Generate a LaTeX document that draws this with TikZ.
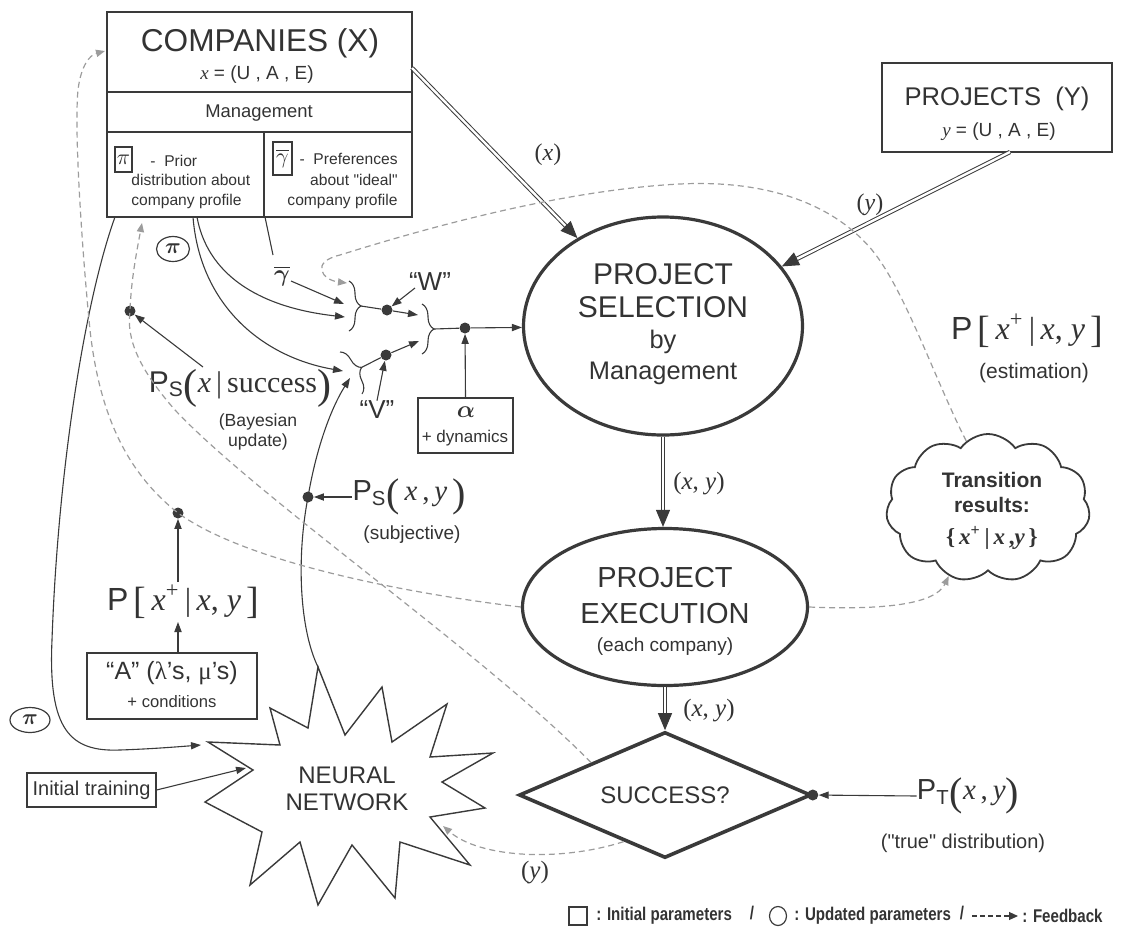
\documentclass[tikz,border=0pt]{standalone}
\usepackage{fontspec}
\setmainfont{Liberation Sans}[Ligatures=TeXOff]
\newfontfamily\lgf[FakeStretch=0.82]{Liberation Sans}
\newfontfamily\srf{Liberation Serif}
\usepackage{bm}
\usetikzlibrary{arrows.meta,shapes.geometric,shapes.symbols,decorations.pathreplacing,calc}
\definecolor{lc}{HTML}{3A3A3A}
\definecolor{tc}{HTML}{333333}
\definecolor{fbc}{HTML}{9C9C9C}
\newcommand{\fsz}[2]{\fontsize{#1pt}{#2pt}\selectfont}
\newcommand{\dl}[2]{\raisebox{-0.2em}{\srf\fontsize{#1pt}{#1pt}\selectfont #2}}
\newcommand{\dlb}[2]{\raisebox{-0.12em}{\srf\fontsize{#1pt}{#1pt}\selectfont #2}}
\newcommand{\vi}[1]{{\srf\itshape #1}}
\tikzset{
  box/.style={draw=lc, line width=1.2pt, inner sep=0pt},
  ln/.style={draw=lc, line width=0.55pt},
  arr/.style={ln, -{Triangle[length=5pt,width=3.6pt]}},
  fb/.style={draw=fbc, line width=0.6pt, dash pattern=on 3pt off 2pt, -{Triangle[length=4.5pt,width=3.6pt]}},
  dbl/.style={draw=lc, double=white, double distance=1.2pt, line width=0.5pt, -{Triangle[length=8.5pt,width=7pt]}},
  dotn/.style={circle, fill=lc, draw=none, inner sep=0pt, minimum size=5.5pt},
  brc/.style={draw=lc, line width=0.55pt, decorate, decoration={brace, amplitude=6pt}},
  lbl/.style={inner sep=0pt},
}
\begin{document}
\begin{tikzpicture}[x=0.5pt,y=-0.5pt, every node/.style={text=tc}]
\useasboundingbox (0,0) rectangle (1131,927);

% ---------- COMPANIES box
\node[box, minimum width=152.5pt, minimum height=102.5pt] (comp) at (259.5,114.5) {};
\draw[box] (107,92) -- (412,92);
\draw[box] (107,132) -- (412,132);
\draw[box] (264,132) -- (264,217);
\node[lbl, font=\fsz{15.8}{18}] (compT) at (260,43) {COMPANIES (X)};
\node[lbl, font=\fsz{9.5}{11}] (compX) at (257,75) {\vi{x} = (U , A , E)};
\node[lbl, font=\fsz{9.2}{11}] (mgmt) at (259,113) {Management};
\node[draw=lc, line width=0.6pt, minimum width=8.5pt, minimum height=12.5pt, inner sep=0pt, font=\fsz{11}{12}] (pib) at (123.5,159.5) {$\pi$};
\node[lbl, anchor=west, font=\fsz{7.8}{9}] (prior) at (150,161) {-\ \ Prior};
\node[lbl, anchor=west, align=left, font=\fsz{7.8}{10}] (distr) at (131,191) {distribution about\\company profile};
\node[draw=lc, line width=0.6pt, minimum width=9.5pt, minimum height=16.5pt, inner sep=0pt, font=\fsz{11}{12}] (gab) at (282.5,158.5) {$\overline{\gamma}$};
\node[lbl, anchor=east, align=right, font=\fsz{7.8}{10.25}] (pref) at (398,181) {-\ \ Preferences\\about "ideal"\\company profile};

% ---------- PROJECTS box
\node[box, minimum width=115pt, minimum height=44.5pt] (proj) at (997,107.5) {};
\node[lbl, font=\fsz{12.8}{14}] (projT) at (997,99) {PROJECTS\ \ (Y)};
\node[lbl, font=\fsz{9.5}{11}] (projY) at (999,132) {\vi{y} = (U , A , E)};

% ---------- main flow
\node[ellipse, draw=lc, line width=1.6pt, minimum width=139.5pt, minimum height=109pt, inner sep=0pt] (sel) at (663,326) {};
\node[lbl, font=\fsz{15}{16}] (selA) at (663,274) {PROJECT};
\node[lbl, font=\fsz{15}{16}] (selB) at (663,307) {SELECTION};
\node[lbl, font=\fsz{12.7}{14}] (selC) at (663,342) {by};
\node[lbl, font=\fsz{12.7}{14}] (selD) at (663,373) {Management};

\node[ellipse, draw=lc, line width=1.6pt, minimum width=142.5pt, minimum height=78.5pt, inner sep=0pt] (exe) at (665,607) {};
\node[lbl, font=\fsz{14.5}{16}] (exeA) at (665,578) {PROJECT};
\node[lbl, font=\fsz{14.5}{16}] (exeB) at (665,614) {EXECUTION};
\node[lbl, font=\fsz{9.5}{11}] (exeC) at (665,647) {(each company)};

\node[diamond, draw=lc, line width=1.8pt, minimum width=146pt, minimum height=63pt, inner sep=0pt, aspect=2.3] (succ) at (665,795) {};
\node[lbl, font=\fsz{12}{13}] (succT) at (665,795) {SUCCESS?};

\node[cloud, cloud puffs=11, cloud puff arc=110, aspect=1.4, draw=lc, line width=0.9pt, minimum width=102pt, minimum height=74pt, inner sep=0pt] (cld) at (988,508) {};
\node[lbl, font=\bfseries\fsz{10.5}{11}] (cldA) at (992,480) {Transition};
\node[lbl, font=\bfseries\fsz{10.5}{11}] (cldB) at (992,505) {results:};
\node[lbl, font=\fsz{11.5}{12}] (cldC) at (992,538) {{\srf\bfseries\{\,\textit{x}\textsuperscript{+}\,|\,\textit{x}\,,\textit{y}\,\}}};

\coordinate (compR) at (412,68);
\coordinate (projS) at (1010,152);
\draw[dbl] (compR) -- (sel);
\draw[dbl] (projS) -- (sel);
\draw[dbl] (sel.south) -- (sel.south |- exe.north);
\draw[dbl] (exe.south) -- (succ.north);
\node[lbl, font=\fsz{12}{13}] (lx) at (548,155) {{\srf(\textit{x})}};
\node[lbl, font=\fsz{12}{13}] (ly) at (870,205) {{\srf(\textit{y})}};
\node[lbl, font=\fsz{12.5}{13}] (lxy1) at (699,484) {{\srf(\textit{x}, \textit{y})}};
\node[lbl, font=\fsz{12.5}{13}] (lxy2) at (709,711) {{\srf(\textit{x}, \textit{y})}};

% ---------- right labels
\node[lbl, font=\fsz{16}{17}] (pr) at (1027,331) {P\,{\srf\dlb{19}{[}\,\textit{x}\textsuperscript{+}\,|\,\textit{x}, \textit{y}\,\dlb{19}{]}}};
\node[lbl, font=\fsz{10.5}{11}] (pre) at (1034,373) {(estimation)};
\node[lbl, font=\fsz{14.5}{16}] (pt) at (968,796) {P\textsubscript{T}{\srf\dl{20}{(}\textit{x}\,,\,\textit{y}\dl{20}{)}}};
\node[lbl, font=\fsz{10}{11}] (pte) at (963,843) {("true" distribution)};
\node[dotn] (d4) at (succ.east) {};
\draw[arr] (pt.west) -- (d4);

% ---------- W / V aggregation
\coordinate (gamTop) at (265,217);
\node[lbl, font=\fsz{13}{14}] (gam) at (282,276) {$\bm{\overline{\gamma}}$};
\draw[ln] (gamTop) -- (273,255);
\draw[arr] (291,281) -- (344,304);
\draw[brc] (349,281) -- (349,331);
\coordinate (wtip) at (361,306);
\node[dotn] (wd) at (387,310) {};
\draw[ln] (wtip) -- (wd);
\node[lbl, font=\fsz{13}{14}] (wl) at (430,282) {“W”};
\draw[arr] (415,288) -- (wd);
\draw[arr] (wd) -- (418,315);
\draw[brc] (422,304) -- (422,354);
\coordinate (b2tip) at (434,329);
\node[dotn] (cd) at (465,328) {};
\draw[ln] (b2tip) -- (cd);
\draw[arr] (cd) -- (sel);
\node[draw=lc, line width=0.6pt, minimum width=47.5pt, minimum height=27.5pt, inner sep=0pt] (alb) at (465.5,425.5) {};
\node[lbl, font=\fsz{13}{14}] (alA) at (466,412) {$\bm{\alpha}$};
\node[lbl, font=\fsz{8.5}{9}] (alB) at (465,438) {+ dynamics};
\draw[arr] (alb.north) -- (cd);
\draw[brc] (340,352) -- (362,394);
\coordinate (vtip) at (361.6,367.4);
\node[dotn] (vd) at (386,355) {};
\draw[ln] (vtip) -- (vd);
\draw[arr] (vd) -- (419,341);
\node[lbl, font=\fsz{13}{14}] (vl) at (377,410) {“V”};
\draw[arr] (vl.north) -- (vd);

\coordinate (c1s) at (197,217);
\coordinate (c2s) at (193,217);
\draw[arr] (c1s) .. controls (207,272) and (255,307) .. (345,317);
\draw[arr] (c2s) .. controls (200,305) and (262,357) .. (343,371);

% ---------- left side labels
\node[ellipse, draw=lc, line width=0.6pt, minimum width=16.5pt, minimum height=12.5pt, inner sep=0pt, font=\fsz{11}{12}] (pi1) at (173,249) {$\bm{\pi}$};
\node[ellipse, draw=lc, line width=0.6pt, minimum width=20pt, minimum height=12.5pt, inner sep=0pt, font=\fsz{11}{12}] (pi2) at (30,720) {$\bm{\pi}$};

\node[dotn] (d1) at (130,311) {};
\node[lbl, font=\fsz{15}{16}] (psx) at (240,388) {P\textsubscript{S}{\srf\dl{21}{(}\textit{x}\,|\,success\dl{21}{)}}};
\node[lbl, align=center, font=\fsz{8.8}{10}] (bay) at (258,432) {(Bayesian\\update)};
\draw[arr] (203,367) -- (d1);

\node[dotn] (d2) at (308,497) {};
\node[lbl, font=\fsz{14.5}{16}] (psxy) at (409,497) {P\textsubscript{S}{\srf\dl{20}{(}\,\textit{x}\,,\,\textit{y}\,\dl{20}{)}}};
\node[lbl, font=\fsz{9.5}{10}] (subj) at (412,535) {(subjective)};
\draw[arr] (psxy.west) -- (d2);

\node[dotn] (d3) at (178,513) {};
\node[lbl, font=\fsz{16}{17}] (pl) at (183,602) {P\,{\srf\dlb{19}{[}\,\textit{x}\textsuperscript{+}\,|\,\textit{x}, \textit{y}\,\dlb{19}{]}}};
\draw[arr] (178,582) -- (d3);

\node[draw=lc, line width=0.6pt, minimum width=85pt, minimum height=33pt, inner sep=0pt] (abox) at (172,686) {};
\node[lbl, font=\fsz{12.5}{14}] (abA) at (172,673) {“A” ({\srf λ}’s, {\srf μ}’s)};
\node[lbl, font=\fsz{8.3}{10}] (abB) at (172,702) {+ conditions};
\draw[arr] (abox.north -| 178,0) -- (178,622);

\node[draw=lc, line width=0.6pt, minimum width=64.5pt, minimum height=17pt, inner sep=0pt, font=\fsz{10}{11}] (itb) at (91.5,790) {Initial training};

% ---------- neural network star
\draw[draw=lc, line width=0.7pt, fill=white]
 (318,667) -- (345,735) -- (382,687) -- (392,742) -- (447,704) -- (430,757) -- (493,753) -- (442,782)
 -- (485,808) -- (430,817) -- (470,865) -- (400,842) -- (395,898) -- (352,845) -- (318,905) -- (300,842)
 -- (250,885) -- (262,832) -- (205,802) -- (253,770) -- (208,742) -- (280,745) -- (270,708) -- (308,728) -- cycle;
\node[lbl, font=\fsz{12}{13}] (nnA) at (347,775) {NEURAL};
\node[lbl, font=\fsz{12}{13}] (nnB) at (347,802) {NETWORK};
\coordinate (nnT) at (318,667);
\coordinate (nnL) at (201,745);
\coordinate (nnI) at (246,768);
\coordinate (nnR) at (443,826);

\draw[arr] (itb.east) -- (nnI);
\coordinate (compBL) at (115,217);
\draw[arr] (compBL) .. controls (85,300) and (58,470) .. (52,640) .. controls (48,730) and (70,752) .. (120,750) .. controls (150,749) and (175,747) .. (nnL);
\draw[arr] (nnT) .. controls (300,630) and (296,560) .. (d2.center) .. controls (316,450) and (330,410) .. (350,378);

% ---------- feedback (dashed)
\draw[fb] (cld.108) .. controls (935,380) and (905,290) .. (872,250) .. controls (830,200) and (760,180) .. (680,184) .. controls (560,190) and (420,230) .. (340,255) .. controls (310,262) and (322,280) .. (347,283);
\draw[fb] (exe.east) .. controls (880,610) and (935,605) .. (cld.240);
\draw[fb] (exe.west) .. controls (420,595) and (250,565) .. (d3.center) .. controls (130,475) and (100,420) .. (90,330) .. controls (82,250) and (74,130) .. (78,90) .. controls (81,65) and (90,55) .. (105,51);
\draw[fb] (succ.north west) .. controls (480,650) and (260,500) .. (175,410) .. controls (140,370) and (126,340) .. (d1.center) .. controls (131,280) and (137,250) .. (142,223);
\coordinate (sy) at ($(succ.west)!0.72!(succ.south)$);
\draw[fb] (sy) .. controls (560,862) and (480,858) .. (nnR);
\node[lbl, font=\fsz{12.5}{13}] (lyb) at (535,873) {{\srf(\textit{y})}};

% ---------- legend
\node[draw=lc, line width=0.6pt, minimum width=9pt, minimum height=9pt, inner sep=0pt] (lgsq) at (578,916) {};
\node[lbl, anchor=west, font=\lgf\bfseries\fsz{9.2}{10}] (lg1) at (596,916) {: Initial parameters};
\node[lbl, font=\lgf\bfseries\fsz{9.2}{10}] (lg2) at (752,913) {/};
\node[ellipse, draw=lc, line width=0.6pt, minimum width=8.5pt, minimum height=9.5pt, inner sep=0pt] (lgc) at (778,916) {};
\node[lbl, anchor=west, font=\lgf\bfseries\fsz{9.2}{10}] (lg3) at (794,916) {: Updated parameters};
\node[lbl, font=\lgf\bfseries\fsz{9.2}{10}] (lg4) at (962,913) {/};
\coordinate (lga) at (972,916);
\coordinate (lgb) at (1018,916);
\draw[ln, dash pattern=on 2.5pt off 1.5pt, -{Triangle[length=4.5pt,width=4pt]}] (lga) -- (lgb);
\node[lbl, anchor=west, font=\lgf\bfseries\fsz{9.2}{10}] (lg5) at (1022,916) {: Feedback};
\end{tikzpicture}
\end{document}
